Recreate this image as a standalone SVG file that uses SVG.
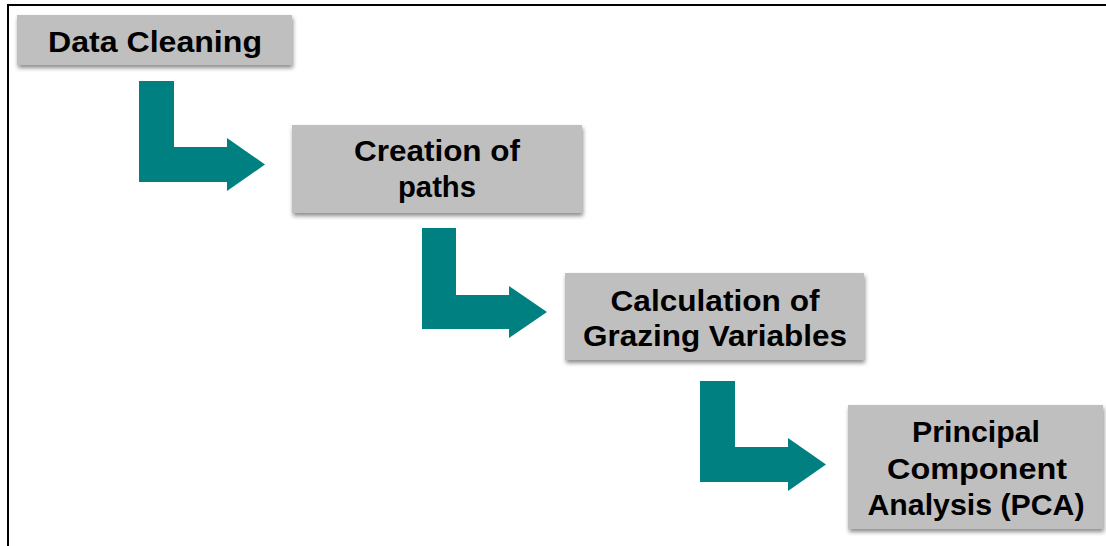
<svg xmlns="http://www.w3.org/2000/svg" width="1106" height="546" viewBox="0 0 1106 546">
  <defs>
    <filter id="shadow" x="-10%" y="-20%" width="120%" height="150%">
      <feDropShadow dx="1" dy="3" stdDeviation="2" flood-color="#000" flood-opacity="0.45"/>
    </filter>
  </defs>
  <style>
    .box { fill: #bfbfbf; filter: url(#shadow); }
    .label { font-family: "Liberation Sans", Arial, sans-serif; font-weight: bold; font-size: 29px; fill: #000; text-anchor: middle; }
    .bend { fill: #008080; }
    .frame { fill: none; stroke: #000; stroke-width: 2; }
  </style>
  <rect width="1106" height="546" fill="#fff"/>
  <path class="frame" d="M8,546 V5 H1106"/>

  <g id="node-data-cleaning">
    <rect class="box" x="17" y="15" width="275" height="50"/>
    <text class="label" x="155" y="52" textLength="214" lengthAdjust="spacingAndGlyphs">Data Cleaning</text>
  </g>

  <g id="node-creation-of-paths">
    <rect class="box" x="292" y="125" width="290" height="88"/>
    <text class="label" x="437" y="161" textLength="166" lengthAdjust="spacingAndGlyphs">Creation of</text>
    <text class="label" x="437" y="197" textLength="78" lengthAdjust="spacingAndGlyphs">paths</text>
  </g>

  <g id="node-grazing-variables">
    <rect class="box" x="565" y="273" width="299" height="87"/>
    <text class="label" x="715" y="311" textLength="209" lengthAdjust="spacingAndGlyphs">Calculation of</text>
    <text class="label" x="715" y="346" textLength="264" lengthAdjust="spacingAndGlyphs">Grazing Variables</text>
  </g>

  <g id="node-pca">
    <rect class="box" x="848" y="405" width="255" height="124"/>
    <text class="label" x="976" y="442" textLength="128" lengthAdjust="spacingAndGlyphs">Principal</text>
    <text class="label" x="977" y="479" textLength="180" lengthAdjust="spacingAndGlyphs">Component</text>
    <text class="label" x="976" y="515" textLength="217" lengthAdjust="spacingAndGlyphs">Analysis (PCA)</text>
  </g>

  <g id="connectors">
    <path class="bend" d="M139,81 H174 V147 H227 V138 L265,164.5 L227,191 V182 H139 Z"/>
    <path class="bend" d="M422,228 H456 V295 H509 V286 L547,312 L509,338 V329 H422 Z"/>
    <path class="bend" d="M700,381 H735 V447 H788 V438 L826,464.5 L788,491 V482 H700 Z"/>
  </g>
</svg>
